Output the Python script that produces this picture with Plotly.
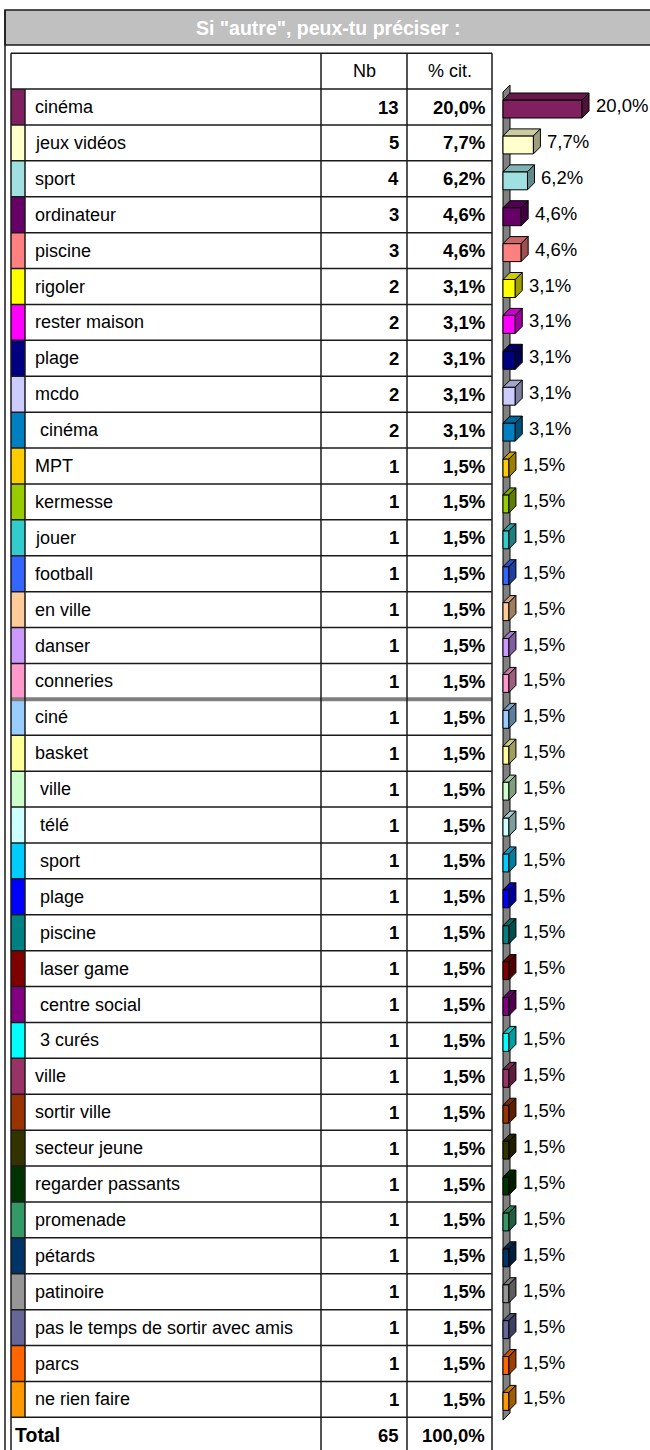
import plotly.graph_objects as go

# --- data -------------------------------------------------------------------
title = 'Si "autre", peux-tu préciser :'

labels = [
    "cinéma", "jeux vidéos", "sport", "ordinateur", "piscine", "rigoler",
    "rester maison", "plage", "mcdo", " cinéma", "MPT", "kermesse", "jouer",
    "football", "en ville", "danser", "conneries", "ciné", "basket", " ville",
    " télé", " sport", " plage", " piscine", " laser game", " centre social",
    " 3 curés", "ville", "sortir ville", "secteur jeune", "regarder passants",
    "promenade", "pétards", "patinoire", "pas le temps de sortir avec amis",
    "parcs", "ne rien faire",
]
counts = [13, 5, 4, 3, 3, 2, 2, 2, 2, 2] + [1] * 27
pcts = [20.0, 7.7, 6.2, 4.6, 4.6, 3.1, 3.1, 3.1, 3.1, 3.1] + [1.5] * 27
colors = [
    "#80205F", "#FFFFCC", "#A0E0E0", "#660066", "#FF8080", "#FFFF00",
    "#FF00FF", "#000080", "#CCCCFF", "#0080C0", "#FFCC00", "#99CC00",
    "#33CCCC", "#3366FF", "#FFCC99", "#CC99FF", "#FF99CC", "#99CCFF",
    "#FFFF99", "#CCFFCC", "#CCFFFF", "#00CCFF", "#0000FF", "#008080",
    "#800000", "#800080", "#00FFFF", "#993366", "#993300", "#333300",
    "#003300", "#339966", "#003366", "#969696", "#666699", "#FF6600",
    "#FF9900",
]
total_count = 65
total_pct = 100.0
col_headers = ["Nb", "% cit."]

# --- layout constants (page pixels) ----------------------------------------
W, H = 650, 1450
ROW_PX = 35.9          # height of one table row
ROW0_PX = 107          # centre of first data row
TITLE_TOP, TITLE_BOT = 10, 45
FRAME_X = 5
TBL_L, SW_R, LBL_R, NB_R, PCT_R = 11, 25, 321, 407, 492
BAR_X0 = 503           # left of bar front faces
PX_PER_PCT = 79 / 20   # 20 % -> 79 px
DEPTH_PX = 7
BAR_H_PX = 18
BAR_SHIFT_PX = 2

FONT = "Liberation Sans, Arial, sans-serif"
FS_LBL = 18
FS_NUM = 18.5
FS_BAR = 18.5
LINE = "#1a1a1a"

n = len(labels)
rows = list(range(n))


def row_of(px):
    return (px - ROW0_PX) / ROW_PX


def fmt_pct(v):
    return f"{v:.1f}".replace(".", ",") + "%"


def shade(hex_color, f):
    r, g, b = (int(hex_color[i:i + 2], 16) for i in (1, 3, 5))
    return f"rgb({int(r * f)},{int(g * f)},{int(b * f)})"


dx = DEPTH_PX / PX_PER_PCT
dy = DEPTH_PX / ROW_PX
bw = BAR_H_PX / ROW_PX
shift = BAR_SHIFT_PX / ROW_PX

fig = go.Figure()

# colour swatches in the table
fig.add_trace(go.Bar(
    orientation="h", y=rows, x=[SW_R - TBL_L] * n, base=TBL_L, width=1,
    marker=dict(color=colors, line=dict(width=0)),
    xaxis="x", yaxis="y", hoverinfo="skip", showlegend=False,
))

# bar front faces
fig.add_trace(go.Bar(
    orientation="h", y=[r + shift for r in rows], x=pcts, base=0, width=bw,
    marker=dict(color=colors, line=dict(color="black", width=1)),
    xaxis="x2", yaxis="y", hoverinfo="skip", showlegend=False,
))

# 3d top and side faces
for r, v, c in zip(rows, pcts, colors):
    yt = r + shift - bw / 2
    yb = r + shift + bw / 2
    fig.add_trace(go.Scatter(
        x=[0, v, v + dx, dx, 0], y=[yt, yt, yt - dy, yt - dy, yt],
        fill="toself", fillcolor=shade(c, 0.8), mode="lines",
        line=dict(color="black", width=1), xaxis="x2", yaxis="y",
        hoverinfo="skip", showlegend=False,
    ))
    fig.add_trace(go.Scatter(
        x=[v, v + dx, v + dx, v, v], y=[yt, yt - dy, yb - dy, yb, yt],
        fill="toself", fillcolor=shade(c, 0.62), mode="lines",
        line=dict(color="black", width=1), xaxis="x2", yaxis="y",
        hoverinfo="skip", showlegend=False,
    ))

shapes = []
ann = []

# axis wall behind the bars
wall_top = row_of(92)
wall_bot = row_of(1420)
shapes.append(dict(
    type="path", xref="x2", yref="y", layer="below",
    path=f"M0,{wall_top} L{dx},{wall_top - dy} L{dx},{wall_bot - dy} L0,{wall_bot} Z",
    fillcolor="#808080", line=dict(color="black", width=1),
))

# title bar and outer frame
shapes.append(dict(
    type="rect", xref="x", yref="y", x0=FRAME_X, x1=W + 5,
    y0=row_of(TITLE_TOP), y1=row_of(TITLE_BOT),
    fillcolor="#C0C0C0", line=dict(color=LINE, width=1.5), layer="below",
))
shapes.append(dict(
    type="line", xref="x", yref="y", x0=FRAME_X, x1=FRAME_X,
    y0=row_of(TITLE_TOP), y1=row_of(H + 10), line=dict(color=LINE, width=1.5),
))
ann.append(dict(
    text=f"<b>{title}</b>", x=(FRAME_X + W) / 2, y=row_of((TITLE_TOP + TITLE_BOT) / 2),
    xref="x", yref="y", showarrow=False, xanchor="center", yanchor="middle",
    font=dict(family=FONT, size=19.5, color="white"),
))

# table grid
top = -1.5
bot = n + 0.5
for k in range(-1, n + 1):
    y = k - 0.5
    shapes.append(dict(
        type="line", xref="x", yref="y", x0=TBL_L, x1=PCT_R, y0=y, y1=y,
        line=dict(color=LINE, width=1.5),
    ))
shapes.append(dict(
    type="line", xref="x", yref="y", x0=TBL_L, x1=PCT_R, y0=16.5, y1=16.5,
    line=dict(color="#7f7f7f", width=4),
))
for x in (TBL_L, LBL_R, NB_R, PCT_R):
    shapes.append(dict(
        type="line", xref="x", yref="y", x0=x, x1=x, y0=top, y1=bot,
        line=dict(color=LINE, width=1.5),
    ))
shapes.append(dict(
    type="line", xref="x", yref="y", x0=SW_R, x1=SW_R, y0=-0.5, y1=n - 0.5,
    line=dict(color=LINE, width=1.5),
))


def cell(text, x, y, anchor, size):
    ann.append(dict(
        text=text, x=x, y=y, xref="x", yref="y", showarrow=False,
        xanchor=anchor, yanchor="middle",
        font=dict(family=FONT, size=size, color="black"),
    ))


# header
cell(col_headers[0], (LBL_R + NB_R) / 2, -1, "center", FS_LBL)
cell(col_headers[1], (NB_R + PCT_R) / 2, -1, "center", FS_LBL)

# rows
for r, lab, cnt, v in zip(rows, labels, counts, pcts):
    cell(lab.replace(" ", "\u00a0"), SW_R + 8, r, "left", FS_LBL)
    cell(f"<b>{cnt}</b>", NB_R - 6, r, "right", FS_NUM)
    cell(f"<b>{fmt_pct(v)}</b>", PCT_R - 5, r, "right", FS_NUM)

cell("<b>Total</b>", TBL_L + 2, n, "left", FS_NUM + 1)
cell(f"<b>{total_count}</b>", NB_R - 6, n, "right", FS_NUM)
cell(f"<b>{fmt_pct(total_pct)}</b>", PCT_R - 5, n, "right", FS_NUM)

# bar value labels
for r, v in zip(rows, pcts):
    ann.append(dict(
        text=fmt_pct(v), x=v + dx + 5 / PX_PER_PCT, y=r + shift - dy / 2,
        xref="x2", yref="y", showarrow=False, xanchor="left", yanchor="middle",
        font=dict(family=FONT, size=FS_BAR, color="black"),
    ))

fig.update_layout(
    width=W, height=H, margin=dict(l=0, r=0, t=0, b=0),
    paper_bgcolor="white", plot_bgcolor="white",
    barmode="overlay", showlegend=False,
    shapes=shapes, annotations=ann,
    xaxis=dict(range=[0, W], domain=[0, 1], visible=False, fixedrange=True),
    xaxis2=dict(range=[-BAR_X0 / PX_PER_PCT, (W - BAR_X0) / PX_PER_PCT],
                domain=[0, 1], overlaying="x", visible=False, fixedrange=True),
    yaxis=dict(range=[row_of(H), row_of(0)], domain=[0, 1], visible=False,
               fixedrange=True),
)

# drop the page's default body margin so the figure sits at the window origin
fig.write_html(
    "out.html",
    config={"displayModeBar": False},
    post_script="document.body.style.margin='0';document.body.style.overflow='hidden';",
)
